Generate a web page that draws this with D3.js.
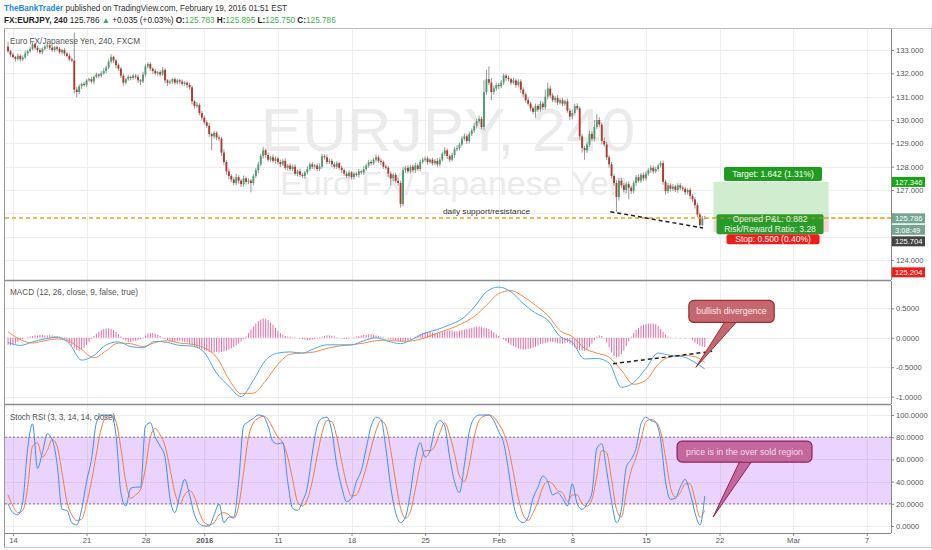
<!DOCTYPE html>
<html><head><meta charset="utf-8">
<script src="https://cdn.jsdelivr.net/npm/d3@7/dist/d3.min.js"></script>
<style>
html,body{margin:0;padding:0;background:#fff;}
svg{display:block;font-family:"Liberation Sans",Arial,sans-serif;}
</style></head><body>
<svg id="chart" width="932" height="550"></svg>
<script>
// ---------------- DATA ----------------
const closes=[
132.95,132.80,132.70,132.62,132.75,132.60,132.68,132.85,132.95,133.05,
133.25,133.10,133.00,132.90,133.05,133.15,133.20,133.10,133.00,133.12,
133.05,132.90,133.00,132.85,132.75,132.60,132.55,131.30,131.20,131.45,
131.55,131.50,131.70,131.75,131.65,131.85,131.95,131.90,132.00,132.10,
132.25,132.50,132.70,132.55,132.35,132.20,131.90,131.60,131.75,131.85,
131.80,131.90,131.85,131.70,131.65,131.95,132.30,132.40,132.20,132.10,
132.00,132.05,131.95,132.15,131.70,131.60,131.65,131.75,131.60,131.70,
131.65,131.55,131.60,131.50,131.40,130.80,130.60,130.65,130.30,130.10,
129.90,129.75,129.40,129.30,129.45,129.25,129.20,128.60,128.20,127.80,
127.60,127.45,127.30,127.55,127.40,127.25,127.50,127.35,127.40,127.30,
127.60,127.85,128.10,128.45,128.70,128.50,128.30,128.40,128.25,128.35,
128.20,128.10,128.25,127.95,128.05,127.90,128.00,127.70,127.80,127.65,
127.60,127.75,127.90,128.10,128.00,128.05,127.90,128.00,128.45,128.40,
128.20,128.25,128.10,128.00,128.15,127.95,127.85,127.70,127.60,127.75,
127.55,127.70,127.65,127.80,127.75,127.90,128.05,128.20,128.15,128.30,
128.40,128.25,128.20,128.00,127.95,127.70,127.50,127.65,127.40,127.30,
126.40,127.85,127.95,127.80,128.00,127.85,128.05,127.90,128.20,128.30,
128.35,128.20,128.30,128.15,128.25,128.10,128.30,128.55,128.70,128.45,
128.30,128.50,128.75,128.80,128.95,129.20,129.30,129.10,129.40,129.55,
129.75,129.95,130.05,129.70,131.20,131.75,131.60,131.20,131.35,131.50,
131.45,131.60,131.90,131.80,131.75,131.60,131.70,131.50,131.65,131.30,
131.10,130.85,130.70,130.50,130.35,130.60,130.45,130.70,130.55,131.00,
131.35,131.05,130.85,130.95,130.75,130.85,130.70,130.80,130.40,130.15,
130.30,130.60,130.50,129.30,128.80,128.70,128.95,129.40,129.20,129.70,
130.00,129.80,129.10,128.95,128.40,128.10,127.60,127.30,126.70,127.40,
127.20,127.00,127.25,127.10,126.95,127.30,127.55,127.40,127.65,127.50,
127.70,127.85,127.95,127.80,127.90,128.05,128.15,127.35,126.95,127.20,
127.05,127.15,127.00,127.20,127.10,127.05,126.90,127.00,126.75,126.60,
126.35,125.95,125.50,125.78,125.786];
const firstOpen=133.15;
// wick extents above / below the body, in hundredths of a yen
const wickUp=[
20,6,8,5,10,7,9,12,6,8, 10,5,8,9,6,7,10,5,8,6, 7,9,5,8,6,10,8,120,12,8,
6,9,5,7,10,6,8,5,9,12, 8,10,12,6,5,9,7,8,6,10, 5,8,7,10,6,12,9,7,8,6,
10,5,8,12,7,6,9,5,8,7, 6,9,7,5,10,8,6,12,7,9, 10,8,12,6,9,7,10,8,14,9,
12,8,10,15,9,7,12,8,10,6, 8,10,12,9,15,8,10,7,12,9, 7,10,8,12,6,9,8,10,7,12,
9,7,12,8,10,6,9,14,10,8, 12,9,7,10,8,6,9,7,10,8, 6,9,8,10,7,12,8,9,10,7,
12,8,10,7,9,8,10,7,9,12, 10,14,8,10,7,9,12,8,10,9, 8,10,7,9,8,12,10,9,14,8,
7,10,9,12,8,10,12,9,10,8, 12,10,14,9,50,40,55,20,12,10, 9,12,10,8,10,7,12,8,10,9,
10,8,12,9,7,10,8,12,9,30, 25,12,10,8,12,9,10,8,12,10, 14,10,12,8,10,9,12,14,10,30,
25,12,10,15,12,9,10,8,12,10, 12,10,9,12,8,10,9,12,8,10, 10,8,12,9,10,8,10,12,9,10,
8,10,7,9,10,8,9,7,10,8, 9,10,8,10,11];
const wickDn=[
8,10,6,12,7,9,8,6,10,7, 6,9,10,7,8,6,9,10,7,8, 9,6,8,10,7,9,8,15,22,10,
12,8,10,6,9,12,7,10,8,6, 9,7,8,10,12,9,10,14,8,7, 10,8,9,12,15,7,9,8,10,12,
8,10,9,6,12,14,8,10,9,8, 10,8,9,12,10,14,12,9,10,12, 10,9,12,60,10,12,9,14,12,15,
14,12,10,9,14,12,10,12,10,40, 10,9,12,8,10,12,9,10,8,12, 9,12,8,10,12,9,10,8,12,9,
10,12,9,8,10,12,9,10,8,9, 10,8,12,9,10,8,12,9,10,12, 9,10,8,12,9,10,8,9,10,8,
10,9,12,10,8,14,30,12,10,12, 15,10,12,9,10,8,12,9,10,8, 9,12,8,10,9,12,10,8,9,12,
10,8,12,9,10,8,9,12,10,9, 10,12,9,10,14,12,10,35,12,10, 12,9,10,12,9,10,8,12,10,14,
12,10,9,12,10,25,10,9,12,10, 12,10,9,12,10,9,12,10,9,14, 12,10,9,15,20,40,12,10,9,12,
10,12,15,10,12,14,10,12,64,15, 12,10,14,50,12,10,12,9,10,12, 10,9,12,10,8,10,9,12,15,10,
12,10,9,12,10,9,12,10,14,12, 15,12,13,5,3];

// MACD (12,26,9) – read every 5 candles (last point = last candle)
const macdStep=5;
const macdLine=[
-0.08,-0.13,-0.07,-0.02,0.01,-0.10,-0.38,-0.30,-0.12,-0.07,
-0.15,-0.17,-0.06,-0.08,-0.13,-0.14,-0.25,-0.60,-0.82,-1.00,
-0.72,-0.38,-0.26,-0.24,-0.26,-0.18,-0.12,-0.12,-0.12,-0.05,
0.00,-0.06,-0.10,-0.02,0.08,0.14,0.22,0.32,0.52,0.78,
0.86,0.78,0.58,0.42,0.30,0.02,-0.08,-0.36,-0.35,-0.43,
-0.84,-0.76,-0.52,-0.26,-0.30,-0.32,-0.42,-0.53];
const signalLine=[
0.10,-0.03,-0.09,-0.05,-0.02,-0.06,-0.20,-0.34,-0.22,-0.09,
-0.10,-0.15,-0.08,-0.05,-0.09,-0.11,-0.17,-0.33,-0.70,-0.95,
-0.94,-0.73,-0.45,-0.28,-0.26,-0.24,-0.18,-0.14,-0.12,-0.09,
-0.05,-0.04,-0.06,-0.05,0.00,0.08,0.15,0.24,0.36,0.55,
0.75,0.80,0.70,0.55,0.38,0.12,0.02,-0.18,-0.26,-0.33,
-0.55,-0.79,-0.72,-0.45,-0.32,-0.30,-0.32,-0.42];
// histogram, one bar per candle, hundredths
const macdHist=[
-12,-13,-12,-10,-7,-4,-2,0,1,2, 3,4,4,5,5,4,4,5,4,3, 3,2,1,-2,-5,-9,-13,-18,-21,-22,
-20,-17,-12,-7,-2,3,7,10,13,15, 16,16,15,13,10,6,2,-2,-5,-7, -7,-6,-5,-4,-2,1,4,7,8,8,
7,5,3,1,-2,-4,-6,-7,-7,-6, -5,-6,-7,-8,-10,-12,-14,-16,-18,-20, -21,-22,-24,-25,-25,-24,-25,-24,-23,-22,
-20,-18,-16,-13,-10,-6,-2,2,8,14, 19,24,28,31,33,32,30,26,22,17, 12,8,5,3,2,2,1,1,0,-1,
-2,-3,-4,-4,-3,-2,-1,1,2,3, 4,4,3,2,1,0,-1,-2,-2,-1, 0,1,2,3,4,5,5,6,6,5,
4,3,2,1,0,-1,-2,-3,-4,-5, -6,-6,-5,-4,-2,0,2,4,6,8, 9,10,10,9,8,8,9,10,11,12,
12,12,11,11,12,13,14,15,16,17, 18,19,19,18,17,16,15,12,9,6, 3,0,-3,-6,-9,-12,-14,-16,-18,-19,
-20,-20,-19,-18,-17,-15,-13,-11,-10,-9, -8,-7,-7,-8,-9,-10,-10,-9,-8,-10, -13,-16,-19,-21,-22,-22,-20,-16,-10,-4,
2,4,3,0,-8,-16,-25,-31,-33,-32, -28,-22,-14,-6,2,8,13,17,20,22, 23,24,24,24,23,20,15,10,5,2,
1,0,1,0,-1,0,1,0,-1,-4, -8,-11,-13,-15,-16];

// Stoch RSI (3,3,14,14) – read every 2 candles
const stochStep=2;
const stochK=[
20,12,10,22,70,92,52,66,83,78, 56,15,14,3,1,15,40,60,93,100,
100,100,82,30,18,34,35,35,90,93, 80,72,62,25,12,28,42,28,10,2,
0,0,10,20,3,8,8,40,90,94, 97,100,99,90,76,74,75,40,16,14,
22,35,65,90,97,98,85,55,35,22, 25,40,50,70,90,98,96,70,35,12,
3,8,30,60,75,62,68,88,95,90, 62,40,30,55,85,97,100,100,100,95,
85,75,50,20,6,3,8,25,35,45, 40,28,30,
25,18,38,20,15,20,30,70,74,50, 22,3,15,53,60,70,92,98,95,93,
78,40,24,25,35,42,30,12,1,27];
const stochD=[
28,18,12,14,35,72,75,62,68,78, 72,48,22,10,5,6,20,40,65,88,
98,100,94,70,40,25,28,33,52,80, 88,82,72,52,30,20,28,32,26,12,
3,1,3,10,12,10,7,18,48,80, 93,97,99,96,88,80,75,62,42,22,
18,24,40,63,84,95,94,80,58,38, 27,28,38,53,70,86,95,90,68,40,
16,7,13,33,55,68,68,72,84,93, 82,65,45,40,55,80,95,99,100,98,
92,84,70,48,25,10,5,12,22,35, 40,38,32,
30,22,28,28,20,18,24,45,68,66, 42,15,8,30,50,62,78,94,96,94,
85,62,35,26,30,38,38,24,8,14];

// axes
const priceTicks=[124,125,126,127,128,129,130,131,132,133];
const priceTicksHidden=[125,126]; // covered by the price-scale boxes in the reference
const macdTicks=[-1,-0.5,0,0.5];
const stochTicks=[0,20,40,60,80,100];
const xTickIdx=[2,32,56,80,110,140,170,200,230,260,290,320,350];
const xTickLabels=["14","21","28","2016","11","18","25","Feb","8","15","22","Mar","7"];

// drawings
const supportLevel=125.80;
const pos={start:287.5,end:334.5,entry:125.704,target:127.346,stop:125.204};
const priceTrend=[[245.5,126.07],[283.3,125.37]];
const macdTrend=[[246.6,-0.44],[287,-0.23]];

// ---------------- LAYOUT ----------------
const svg=d3.select('#chart');
const L=5,R=891;
const PT=29,PB=280,MT=281,MB=404,ST=405,SB=533;
const x=d3.scaleLinear().domain([-1.24,359.9]).range([L,R]);
const yP=d3.scaleLinear().domain([124,133]).range([260,50]);
const yM=d3.scaleLinear().domain([-1,0.5]).range([396.7,308.3]);
const yS=d3.scaleLinear().domain([0,100]).range([526,415]);

const defs=svg.append('defs');
[['cp',PT,PB],['cm',MT,MB],['cs',ST,SB]].forEach(([id,t,b])=>{
  defs.append('clipPath').attr('id',id).append('rect').attr('x',L).attr('y',t).attr('width',R-L).attr('height',b-t);
});

// outer frame
svg.append('rect').attr('x',4.5).attr('y',28.5).attr('width',927).attr('height',519).attr('fill','none').attr('stroke','#c8c8c8');

// grid
const grid=svg.append('g').attr('stroke','#ededed').attr('stroke-width',1);
xTickIdx.forEach(i=>{grid.append('line').attr('x1',Math.round(x(i))+0.5).attr('x2',Math.round(x(i))+0.5).attr('y1',PT).attr('y2',SB);});
priceTicks.forEach(v=>grid.append('line').attr('x1',L).attr('x2',R).attr('y1',Math.round(yP(v))+0.5).attr('y2',Math.round(yP(v))+0.5));
macdTicks.forEach(v=>grid.append('line').attr('x1',L).attr('x2',R).attr('y1',Math.round(yM(v))+0.5).attr('y2',Math.round(yM(v))+0.5));

// ---------------- PRICE PANE ----------------
const gp=svg.append('g').attr('clip-path','url(#cp)');
gp.append('text').attr('x',448).attr('y',151).attr('text-anchor','middle').attr('font-size',62)
  .attr('fill','#ebebeb').text('EURJPY, 240');
gp.append('text').attr('x',454).attr('y',195).attr('text-anchor','middle').attr('font-size',34)
  .attr('fill','#ebebeb').text('Euro FX/Japanese Yen');

// position tool zones
gp.append('rect').attr('x',x(pos.start)).attr('width',x(pos.end)-x(pos.start))
  .attr('y',yP(pos.target)).attr('height',yP(pos.entry)-yP(pos.target)).attr('fill','#cdeccd').attr('opacity',0.95);
gp.append('rect').attr('x',x(pos.start)).attr('width',x(pos.end)-x(pos.start))
  .attr('y',yP(pos.entry)).attr('height',yP(pos.stop)-yP(pos.entry)).attr('fill','#f7d3d3');

// candles
const candles=closes.map((c,i)=>{
  const o=i?closes[i-1]:firstOpen;
  return {i,o,c,h:Math.max(o,c)+wickUp[i]/100,l:Math.min(o,c)-wickDn[i]/100};
});
gp.append('g').selectAll('line').data(candles).join('line')
  .attr('x1',d=>x(d.i)).attr('x2',d=>x(d.i)).attr('y1',d=>yP(d.h)).attr('y2',d=>yP(d.l))
  .attr('stroke','#7c7c7c').attr('stroke-width',0.8);
gp.append('g').selectAll('rect').data(candles).join('rect')
  .attr('x',d=>x(d.i)-0.95).attr('width',1.9)
  .attr('y',d=>yP(Math.max(d.o,d.c))).attr('height',d=>Math.max(0.8,Math.abs(yP(d.o)-yP(d.c))))
  .attr('fill',d=>d.c>=d.o?'#4c9f70':'#b3392e');

// support line
gp.append('line').attr('x1',L).attr('x2',R).attr('y1',yP(supportLevel)).attr('y2',yP(supportLevel))
  .attr('stroke','#f0a020').attr('stroke-width',1.4).attr('stroke-dasharray','4,3');
gp.append('text').attr('x',x(177.3)).attr('y',yP(supportLevel)-4).attr('font-size',7.6).attr('fill','#333')
  .attr('textLength',87).attr('lengthAdjust','spacingAndGlyphs').text('daily support/resistance');

// trend line
gp.append('line').attr('x1',x(priceTrend[0][0])).attr('y1',yP(priceTrend[0][1]))
  .attr('x2',x(priceTrend[1][0])).attr('y2',yP(priceTrend[1][1]))
  .attr('stroke','#222').attr('stroke-width',1.5).attr('stroke-dasharray','4,3');

// position tool labels
const pc=(x(pos.start)+x(pos.end))/2+2;
function labelBox(g,cx,y,w,h,fill,lines,fs,tc){
  g.append('rect').attr('x',cx-w/2).attr('y',y).attr('width',w).attr('height',h).attr('rx',2).attr('fill',fill);
  lines.forEach((s,k)=>g.append('text').attr('x',cx).attr('y',y+(k+1)*h/lines.length-(h/lines.length-fs)/2-1)
    .attr('text-anchor','middle').attr('font-size',fs).attr('fill',tc||'#fff').text(s));
}
labelBox(gp,pc,yP(pos.target)-15,98,14,'#1e9c1e',['Target: 1.642 (1.31%)'],8.5);
labelBox(gp,pc-3,yP(pos.entry)-6,107,20,'#2a9a2a',['Opened P&L: 0.882','Risk/Reward Ratio: 3.28'],8.5,'#e8f4e8');
gp.append('line').attr('x1',x(pos.start)).attr('x2',R).attr('y1',yP(supportLevel)).attr('y2',yP(supportLevel))
  .attr('stroke','#f0a020').attr('stroke-width',1.2).attr('stroke-dasharray','4,3').attr('opacity',0.8);
labelBox(gp,pc,yP(pos.entry)+14,93,10,'#f01c1c',['Stop: 0.500 (0.40%)'],8.5);

svg.append('text').attr('x',10).attr('y',44).attr('font-size',9).attr('fill','#555')
  .attr('textLength',130).attr('lengthAdjust','spacingAndGlyphs').text('Euro FX/Japanese Yen, 240, FXCM');

// ---------------- MACD PANE ----------------
const gm=svg.append('g').attr('clip-path','url(#cm)');
gm.append('g').selectAll('line').data(macdHist).join('line')
  .attr('x1',(d,i)=>x(i)).attr('x2',(d,i)=>x(i)).attr('y1',yM(0)).attr('y2',d=>yM(d/100))
  .attr('stroke','#e6589c').attr('stroke-width',0.9);
const mIdx=k=>Math.min(k*macdStep,closes.length-1);
const lineM=d3.line().x((d,k)=>x(mIdx(k))).y(d=>yM(d)).curve(d3.curveMonotoneX);
gm.append('path').attr('d',lineM(signalLine)).attr('fill','none').attr('stroke','#f08b48').attr('stroke-width',1);
gm.append('path').attr('d',lineM(macdLine)).attr('fill','none').attr('stroke','#4aa8e8').attr('stroke-width',1);
gm.append('line').attr('x1',x(macdTrend[0][0])).attr('y1',yM(macdTrend[0][1]))
  .attr('x2',x(macdTrend[1][0])).attr('y2',yM(macdTrend[1][1]))
  .attr('stroke','#222').attr('stroke-width',1.5).attr('stroke-dasharray','4,3');
svg.append('text').attr('x',10).attr('y',295).attr('font-size',9).attr('fill','#555')
  .attr('textLength',128).attr('lengthAdjust','spacingAndGlyphs').text('MACD (12, 26, close, 9, false, true)');

// ---------------- STOCH PANE ----------------
const gs=svg.append('g').attr('clip-path','url(#cs)');
stochTicks.forEach(v=>gs.append('line').attr('x1',L).attr('x2',R).attr('y1',Math.round(yS(v))+0.5).attr('y2',Math.round(yS(v))+0.5).attr('stroke','#ededed'));
gs.append('rect').attr('x',L).attr('width',R-L).attr('y',yS(80)).attr('height',yS(20)-yS(80)).attr('fill','rgba(150,40,245,0.2)');
[80,20].forEach(v=>gs.append('line').attr('x1',L).attr('x2',R).attr('y1',yS(v)).attr('y2',yS(v))
  .attr('stroke','#8f6f96').attr('stroke-dasharray','2,2').attr('stroke-width',1));
const lineS=d3.line().x((d,k)=>x(Math.min(k*stochStep,closes.length-1))).y(d=>yS(d)).curve(d3.curveMonotoneX);
gs.append('path').attr('d',lineS(stochD)).attr('fill','none').attr('stroke','#f27d3a').attr('stroke-width',1);
gs.append('path').attr('d',lineS(stochK)).attr('fill','none').attr('stroke','#3d8ff0').attr('stroke-width',1);
svg.append('text').attr('x',10).attr('y',420).attr('font-size',9).attr('fill','#555')
  .attr('textLength',105).attr('lengthAdjust','spacingAndGlyphs').text('Stoch RSI (3, 3, 14, 14, close)');

// ---------------- CALLOUTS ----------------
function callout(boxX0,boxX1,boxY0,boxY1,tip,baseA,baseB,fill,stroke,text,tc){
  const g=svg.append('g');
  g.append('path').attr('d',`M${baseA},${boxY1-2} L${tip[0]},${tip[1]} L${baseB},${boxY1-2}Z`).attr('fill',fill).attr('stroke',stroke).attr('stroke-width',1);
  g.append('rect').attr('x',boxX0).attr('y',boxY0).attr('width',boxX1-boxX0).attr('height',boxY1-boxY0).attr('rx',5)
    .attr('fill',fill).attr('stroke',stroke).attr('stroke-width',1.2);
  g.append('rect').attr('x',Math.min(baseA,baseB)+1).attr('y',boxY1-3).attr('width',Math.abs(baseB-baseA)-2).attr('height',2.5).attr('fill',fill);
  g.append('text').attr('x',(boxX0+boxX1)/2).attr('y',(boxY0+boxY1)/2+3).attr('text-anchor','middle')
    .attr('font-size',8.8).attr('fill',tc).text(text);
}
callout(x(277.5),x(312.3),yM(0.635),yM(0.26),[x(280.4),yM(-0.5)],x(292.5),x(297.5),'#c4676f','#9e2c37','bullish divergence','#fbe9ea');
callout(x(272.7),x(327.7),yS(76.5),yS(57.6),[x(287.4),yS(8.1)],x(298.5),x(303.5),'#c3679c','#8e2158','price is in the over sold region','#f6dcec');

// ---------------- AXES ----------------
function styleAxis(g){g.selectAll('text').attr('font-size',7.6).attr('fill','#555').attr('font-family','"Liberation Sans",Arial,sans-serif');
  g.selectAll('line').attr('stroke','#888');g.select('.domain').attr('stroke','#888');}
const ap=svg.append('g').attr('transform',`translate(${R},0)`)
  .call(d3.axisRight(yP).tickValues(priceTicks).tickFormat(d=>priceTicksHidden.includes(d)?'':d3.format('.3f')(d)).tickSize(3).tickPadding(2));
styleAxis(ap); ap.select('.domain').attr('d',`M0.5,${PT}V${PB}`);
const am=svg.append('g').attr('transform',`translate(${R},0)`)
  .call(d3.axisRight(yM).tickValues(macdTicks).tickFormat(d3.format('.4f')).tickSize(3).tickPadding(2));
styleAxis(am); am.select('.domain').attr('d',`M0.5,${MT}V${MB}`);
const as=svg.append('g').attr('transform',`translate(${R},0)`)
  .call(d3.axisRight(yS).tickValues(stochTicks).tickFormat(d3.format('.4f')).tickSize(3).tickPadding(2));
styleAxis(as); as.select('.domain').attr('d',`M0.5,${ST}V${SB}`);
[ap,am,as].forEach(a=>a.selectAll('text').text(function(){return this.textContent.replace('\u2212','-');}));

const ax=svg.append('g').attr('transform',`translate(0,${SB})`)
  .call(d3.axisBottom(x).tickValues(xTickIdx).tickFormat((d,k)=>xTickLabels[k]).tickSize(3).tickPadding(2));
styleAxis(ax); ax.select('.domain').attr('d',`M${4},0.5H${R}`);
ax.selectAll('text').attr('font-weight',d=>d===80?'bold':null);

// pane separators
[[PB+0.5,'#8c8c8c',1.5],[MB+0.5,'#8c8c8c',1.5]].forEach(([y,c,w])=>svg.append('line').attr('x1',4).attr('x2',R).attr('y1',y).attr('y2',y).attr('stroke',c).attr('stroke-width',w));
svg.append('line').attr('x1',4.5).attr('x2',4.5).attr('y1',28.5).attr('y2',547).attr('stroke','#999');
svg.append('line').attr('x1',4).attr('x2',R).attr('y1',28.5).attr('y2',28.5).attr('stroke','#bbb');

// price scale boxes
function scaleBox(y,txt,fill){
  svg.append('rect').attr('x',R+1).attr('y',y-5).attr('width',33).attr('height',10).attr('fill',fill);
  svg.append('text').attr('x',R+4).attr('y',y+3).attr('font-size',7.6).attr('fill','#fff').text(txt);
}
scaleBox(yP(pos.target),'127.346','#1aa31a');
scaleBox(yP(125.786),'125.786','#74a592');
scaleBox(yP(125.786)+11.5,'3:08:49','#74a592');
scaleBox(yP(125.786)+23,'125.704','#444');
scaleBox(yP(125.786)+54,'125.204','#f41b1b');

// ---------------- HEADER ----------------
// size each header line so its natural width matches the reference (no glyph squeezing)
function fitLine(t,target){const w=t.node().getComputedTextLength();const fs=+t.attr('font-size');t.attr('font-size',(fs*target/w).toFixed(2));}
const h1=svg.append('text').attr('x',4).attr('y',10.5).attr('font-size',10).attr('fill','#333');
h1.append('tspan').attr('fill','#1e88e5').attr('font-weight','bold').text('TheBankTrader');
h1.append('tspan').text(' published on TradingView.com, February 19, 2016 01:51 EST');
fitLine(h1,284);
const h2=svg.append('text').attr('x',4).attr('y',23).attr('font-size',10).attr('fill','#222');
const g2='#44b04b';
[['FX:EURJPY, 240 ',null,true],['125.786 ',null,false],['\u25B2','#2fa84f',false],[' +0.035 (+0.03%) ',null,false],
 ['O:',null,true],['125.783 ',g2,false],['H:',null,true],['125.895 ',g2,false],
 ['L:',null,true],['125.750 ',g2,false],['C:',null,true],['125.786',g2,false]]
 .forEach(([s,c,b])=>{const t=h2.append('tspan').text(s); if(c)t.attr('fill',c); if(b)t.attr('font-weight','bold');});
fitLine(h2,332);
</script></body></html>
